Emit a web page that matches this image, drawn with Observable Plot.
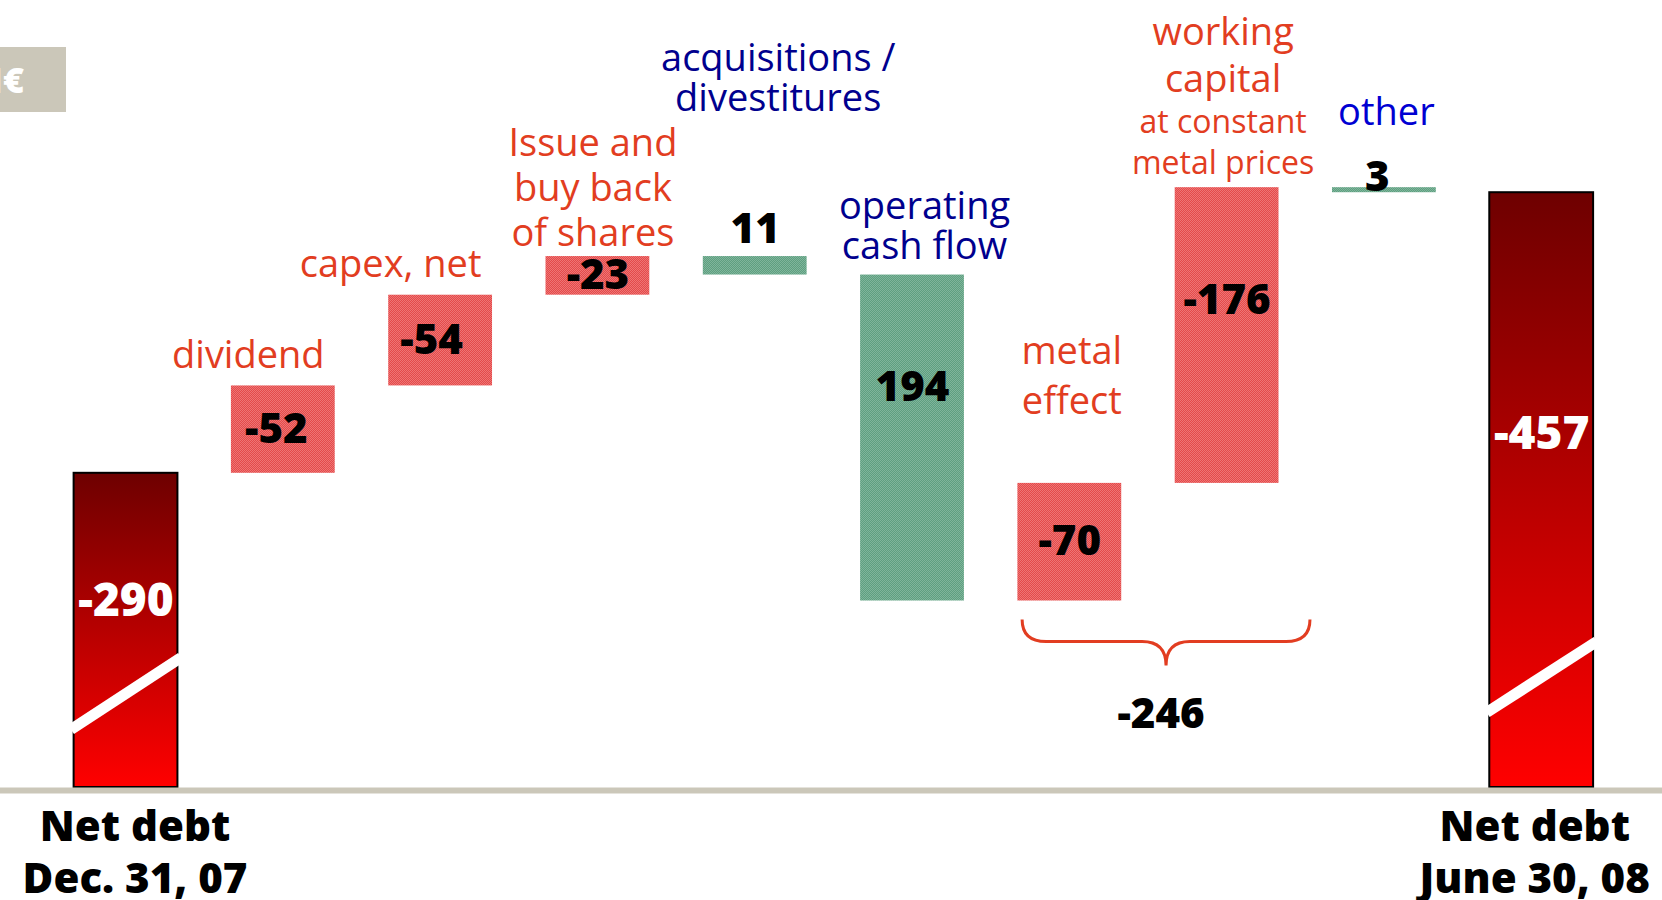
<!DOCTYPE html>
<html>
<head>
<meta charset="utf-8">
<script src="https://cdn.jsdelivr.net/npm/d3@7"></script>
<script src="https://cdn.jsdelivr.net/npm/@observablehq/plot@0.6"></script>
<style>
  html, body { margin: 0; padding: 0; background: #fff; overflow: hidden; }
  #wrap { position: relative; width: 1662px; height: 900px; }
  #unit { position: absolute; left: 0; top: 47px; width: 66px; height: 65px; background: #cbc7b9; overflow: hidden; }
  #unit span { position: absolute; right: 42px; top: 8px; font: 800 36px "Open Sans", sans-serif; color: #fff; white-space: nowrap; }
  svg text { font-family: "Open Sans", sans-serif; }
</style>
</head>
<body>
<div id="wrap"><div id="unit"><span>M€</span></div></div>
<script>
// ---------------- data ----------------
const categories = [
  "Net debt Dec. 31, 07", "dividend", "capex, net", "Issue and buy back of shares",
  "acquisitions / divestitures", "operating cash flow", "metal effect",
  "working capital at constant metal prices", "other", "Net debt June 30, 08"
];
const values = [-290, -52, -54, -23, 11, 194, -70, -176, 3, -457];
const isTotal = [true, false, false, false, false, false, false, false, false, true];
const labelLines = [
  [], ["dividend"], ["capex, net"], ["Issue and", "buy back", "of shares"],
  ["acquisitions /", "divestitures"], ["operating", "cash flow"], ["metal", "effect"],
  ["working", "capital"], ["other"], []
];
const subLabelLines = [[], [], [], [], [], [], [], ["at constant", "metal prices"], [], []];
const axisLabelLines = [["Net debt", "Dec. 31, 07"], [], [], [], [], [], [], [], [], ["Net debt", "June 30, 08"]];
const bracketItems = [6, 7];
const unitLabel = "M€";

// ---------------- layout ----------------
const W = 1662, H = 900, MB = 113;
const Y_DOMAIN = [-103, -571.4];
const X_DOMAIN = [-0.798, 9.768];
const HALF = 0.33;
const BASE = H - MB;
const pxPerUnit = BASE / (Y_DOMAIN[0] - Y_DOMAIN[1]);
const pxPerIdx = W / (X_DOMAIN[1] - X_DOMAIN[0]);
const toPx = v => BASE - (Y_DOMAIN[0] - v) * pxPerUnit;
const toV = px => Y_DOMAIN[0] - (BASE - px) / pxPerUnit;
const idx = px => px / pxPerIdx;

const RED_TEXT = "#e23d21", NAVY = "#00008e", BLUE = "#0000d2";

document.getElementById("unit").querySelector("span").textContent = unitLabel;

// waterfall
let running = 0;
const bars = categories.map((c, i) => {
  const v = values[i];
  if (isTotal[i]) { running = v; return {i, c, v, kind: "total", y1: Y_DOMAIN[0], y2: v, top: v}; }
  const y1 = running; running += v;
  return {i, c, v, kind: v < 0 ? "neg" : "pos", y1, y2: running, top: Math.min(y1, running)};
});

// category label blocks (one multi-line text per block)
const labelLayout = {
  1: {gap: 18, lh: 45, dx: -35},
  2: {gap: 18, lh: 45, dx: -50},
  3: {gap: 11, lh: 45, dx: -5},
  4: {gap: 146, lh: 40, dx: 23},
  5: {gap: 16, lh: 40, dx: 12},
  6: {gap: 69, lh: 50, dx: 2},
  7: {gap: 96, lh: 47, dx: -4, subGap: 14, subLh: 41},
  8: {gap: 63, lh: 40, dx: 2}
};
const labelBlocks = [];
bars.forEach(b => {
  const L = labelLayout[b.i];
  if (!L) return;
  const topPx = toPx(b.top);
  const main = labelLines[b.i], sub = subLabelLines[b.i];
  if (main.length) labelBlocks.push({
    x: b.i + idx(L.dx), y: toV(topPx - L.gap), text: main.join("\n"), size: 38,
    lh: L.lh / 38, color: b.v < 0 ? RED_TEXT : (b.i === 8 ? BLUE : NAVY)
  });
  if (sub.length) labelBlocks.push({
    x: b.i + idx(L.dx), y: toV(topPx - L.subGap), text: sub.join("\n"), size: 32,
    lh: L.subLh / 32, color: RED_TEXT
  });
});

// value labels
const valueDx = {1: -7, 2: -9, 8: -7};
const valueRows = bars.map(b => {
  const topPx = toPx(b.top), botPx = toPx(Math.max(b.y1, b.y2));
  const h = botPx - topPx;
  let base;
  if (b.kind === "total") base = topPx + 0.405 * (BASE - topPx) + 15;
  else if (h < 30) base = b.i === 8 ? topPx + 3 : topPx - 14;
  else base = Math.min((topPx + botPx) / 2, topPx + 113) + 13;
  return {x: b.i + idx(valueDx[b.i] || 0), y: toV(base), text: String(b.v), total: b.kind === "total"};
});

// axis labels (below baseline)
const axisDx = {0: 9, 9: -7};
const axisRows = [];
axisLabelLines.forEach((lines, i) => {
  if (lines.length) axisRows.push({x: i + idx(axisDx[i] || 0), y: toV(BASE + 53 + (lines.length - 1) * 52), text: lines.join("\n")});
});

// bracket
const bracketSum = bracketItems.reduce((s, i) => s + values[i], 0);
const bracketLowPx = d3.max(bracketItems, i => toPx(Math.max(bars[i].y1, bars[i].y2)));
const bracketLeft = bracketItems[0] - 0.30, bracketRight = bracketItems[bracketItems.length - 1] + 0.53;
const bracketTip = 6.615;

// breaks on total bars (px above baseline on left/right edges)
const breakLayout = {0: [58, 130], 9: [75, 146]};
const breaks = bars.filter(b => b.kind === "total").map(b => ({
  i: b.i, y1: toV(BASE - breakLayout[b.i][0]), y2: toV(BASE - breakLayout[b.i][1])
}));

const plot = Plot.plot({
  width: W, height: H,
  marginTop: 0, marginLeft: 0, marginRight: 0, marginBottom: MB,
  x: {domain: X_DOMAIN, axis: null},
  y: {domain: Y_DOMAIN, axis: null},
  style: {background: "transparent", overflow: "visible"},
  marks: [
    Plot.rect(bars.filter(b => b.kind === "total"), {
      x1: d => d.i - HALF, x2: d => d.i + HALF, y1: "y1", y2: "y2",
      fill: "url(#gradTotal)", stroke: "#000", strokeWidth: 2
    }),
    Plot.rect(bars.filter(b => b.kind === "neg"), {
      x1: d => d.i - HALF, x2: d => d.i + HALF, y1: "y1", y2: "y2", fill: "url(#hatchRed)"
    }),
    Plot.rect(bars.filter(b => b.kind === "pos"), {
      x1: d => d.i - HALF, x2: d => d.i + HALF, y1: "y1", y2: "y2", fill: "url(#hatchGreen)"
    }),
    Plot.link(breaks, {
      x1: d => d.i - HALF - 0.02, x2: d => d.i + HALF + 0.02, y1: "y1", y2: "y2",
      stroke: "#fff", strokeWidth: 11
    }),
    Plot.ruleY([Y_DOMAIN[0]], {stroke: "#cbc7b9", strokeWidth: 6, dy: 3}),
    ...labelBlocks.map(d =>
      Plot.text([d], {x: "x", y: "y", text: "text", fill: d.color, fontSize: d.size,
        lineHeight: d.lh, lineAnchor: "bottom", textAnchor: "middle", fontFamily: "Open Sans"})),
    Plot.text(valueRows.filter(d => !d.total), {x: "x", y: "y", text: "text", fill: "#000",
      fontSize: 42, fontWeight: 800, lineAnchor: "bottom", fontFamily: "Open Sans"}),
    Plot.text(valueRows.filter(d => d.total), {x: "x", y: "y", text: "text", fill: "#fff",
      fontSize: 46, fontWeight: 800, lineAnchor: "bottom", fontFamily: "Open Sans"}),
    Plot.text(axisRows, {x: "x", y: "y", text: "text", fill: "#000",
      fontSize: 42, fontWeight: 800, lineHeight: 52 / 42, lineAnchor: "bottom", fontFamily: "Open Sans"}),
    Plot.text([{x: bracketTip - 0.035, y: toV(bracketLowPx + 127), text: String(bracketSum)}],
      {x: "x", y: "y", text: "text", fill: "#000", fontSize: 42, fontWeight: 800,
       lineAnchor: "bottom", fontFamily: "Open Sans"})
  ]
});

// defs: gradient + dither patterns
const svg = d3.select(plot);
const defs = svg.insert("defs", ":first-child");
const g = defs.append("linearGradient").attr("id", "gradTotal")
  .attr("x1", 0).attr("y1", 0).attr("x2", 0).attr("y2", 1);
g.append("stop").attr("offset", "0%").attr("stop-color", "#6e0000");
g.append("stop").attr("offset", "100%").attr("stop-color", "#ff0000");
function hatch(id, a, b) {
  const p = defs.append("pattern").attr("id", id).attr("width", 2).attr("height", 2)
    .attr("patternUnits", "userSpaceOnUse");
  p.append("rect").attr("width", 2).attr("height", 2).attr("fill", a);
  p.append("rect").attr("width", 1).attr("height", 1).attr("fill", b);
  p.append("rect").attr("x", 1).attr("y", 1).attr("width", 1).attr("height", 1).attr("fill", b);
}
hatch("hatchRed", "#e44a4a", "#ee7575");
hatch("hatchGreen", "#5e9f80", "#7fb59b");

// bracket path from the plot's scales
const sx = plot.scale("x");
const L = sx.apply(bracketLeft), R = sx.apply(bracketRight), T = sx.apply(bracketTip);
const yTop = bracketLowPx + 19, yMid = bracketLowPx + 41, yTip = bracketLowPx + 65;
const r = 24;
const path = `M${L},${yTop} Q${L},${yMid} ${L + r},${yMid} H${T - r} Q${T},${yMid} ${T},${yTip}`
  + ` Q${T},${yMid} ${T + r},${yMid} H${R - r} Q${R},${yMid} ${R},${yTop}`;
svg.append("path").attr("d", path).attr("fill", "none").attr("stroke", RED_TEXT).attr("stroke-width", 3);

document.getElementById("wrap").prepend(plot);
plot.style.position = "absolute"; plot.style.left = "0"; plot.style.top = "0";
</script>
</body>
</html>
